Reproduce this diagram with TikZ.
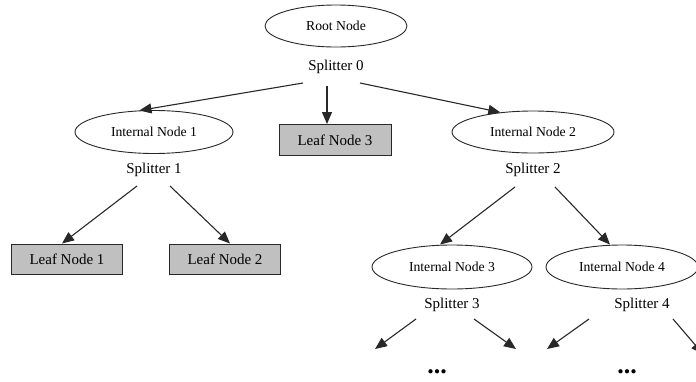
\documentclass[tikz,border=0pt]{standalone}
\usepackage{fontspec}
\setmainfont{Liberation Serif}
\usetikzlibrary{shapes.geometric,arrows.meta,calc}
\definecolor{ink}{RGB}{40,40,40}
\definecolor{leafgray}{RGB}{192,192,192}
\tikzset{
  inner/.style={ellipse, draw=ink, line width=0.9pt, fill=white, inner sep=0pt,
    minimum width=158pt, minimum height=43pt, font=\fontsize{13.7}{14}\selectfont},
  leaf/.style={rectangle, draw=ink, line width=1pt, fill=leafgray, inner sep=0pt,
    minimum width=111pt, minimum height=30pt, font=\fontsize{15}{16}\selectfont},
  split/.style={inner sep=1pt, font=\fontsize{15}{16}\selectfont},
  more/.style={inner sep=0pt, font=\fontsize{26}{26}\bfseries},
  arr/.style={draw=ink, line width=1.1pt, -{Triangle[length=12pt,width=10pt]}}
}
\begin{document}
\begin{tikzpicture}[x=1pt,y=-1pt]
\useasboundingbox (0,0) rectangle (696,381);

% tree nodes
\node[inner, minimum width=142pt, minimum height=42pt] (root) at (336,26) {Root Node};
\node[split] (s0) at (336,67) {Splitter 0};

\node[inner] (in1) at (154,132) {Internal Node 1};
\node[split] (s1) at (154,170) {Splitter 1};
\node[leaf, minimum width=112pt, minimum height=31pt] (ln3) at (335,140) {Leaf Node 3};
\node[inner, minimum width=162pt, minimum height=42pt] (in2) at (533,132) {Internal Node 2};
\node[split] (s2) at (533,170) {Splitter 2};

\node[leaf] (ln1) at (67,259) {Leaf Node 1};
\node[leaf] (ln2) at (225,259) {Leaf Node 2};

\node[inner, minimum width=160pt, minimum height=44pt] (in3) at (452,267) {Internal Node 3};
\node[split] (s3) at (452,305) {Splitter 3};
\node[inner, minimum width=152pt, minimum height=44pt] (in4) at (622,267) {Internal Node 4};
\node[split] (s4) at (642,305) {Splitter 4};

\node[more] (m3) at (437,372) {...};
\node[more] (m4) at (627,372) {...};

% connector start points below the splitter labels
\coordinate (s0l) at (303,83);
\coordinate (s0m) at (327,86);
\coordinate (s0r) at (360,83);
\coordinate (s1l) at (137,186);
\coordinate (s1r) at (170,186);
\coordinate (s2l) at (515,187);
\coordinate (s2r) at (555,187);
\coordinate (s3l) at (416,319);
\coordinate (s3r) at (474,319);
\coordinate (s4l) at (589,319);
\coordinate (s4r) at (673,319);

% open ends of the lowest level
\coordinate (e3l) at (375,349);
\coordinate (e3r) at (516,349);
\coordinate (e4l) at (547,349);
\coordinate (e4r) at (703,354);

% connectors
\draw[arr] (s0l) -- (in1.124);
\draw[arr] (s0m) -- (s0m |- ln3.north);
\draw[arr] (s0r) -- (in2.149);
\draw[arr] (s1l) -- ($(ln1.north)+(-5,0)$);
\draw[arr] (s1r) -- ($(ln2.north)+(5,0)$);
\draw[arr] (s2l) -- ($(in3.north)+(-12,0)$);
\draw[arr] (s2r) -- ($(in4.north)+(-12,0)$);
\draw[arr] (s3l) -- (e3l);
\draw[arr] (s3r) -- (e3r);
\draw[arr] (s4l) -- (e4l);
\draw[arr] (s4r) -- (e4r);
\end{tikzpicture}
\end{document}
